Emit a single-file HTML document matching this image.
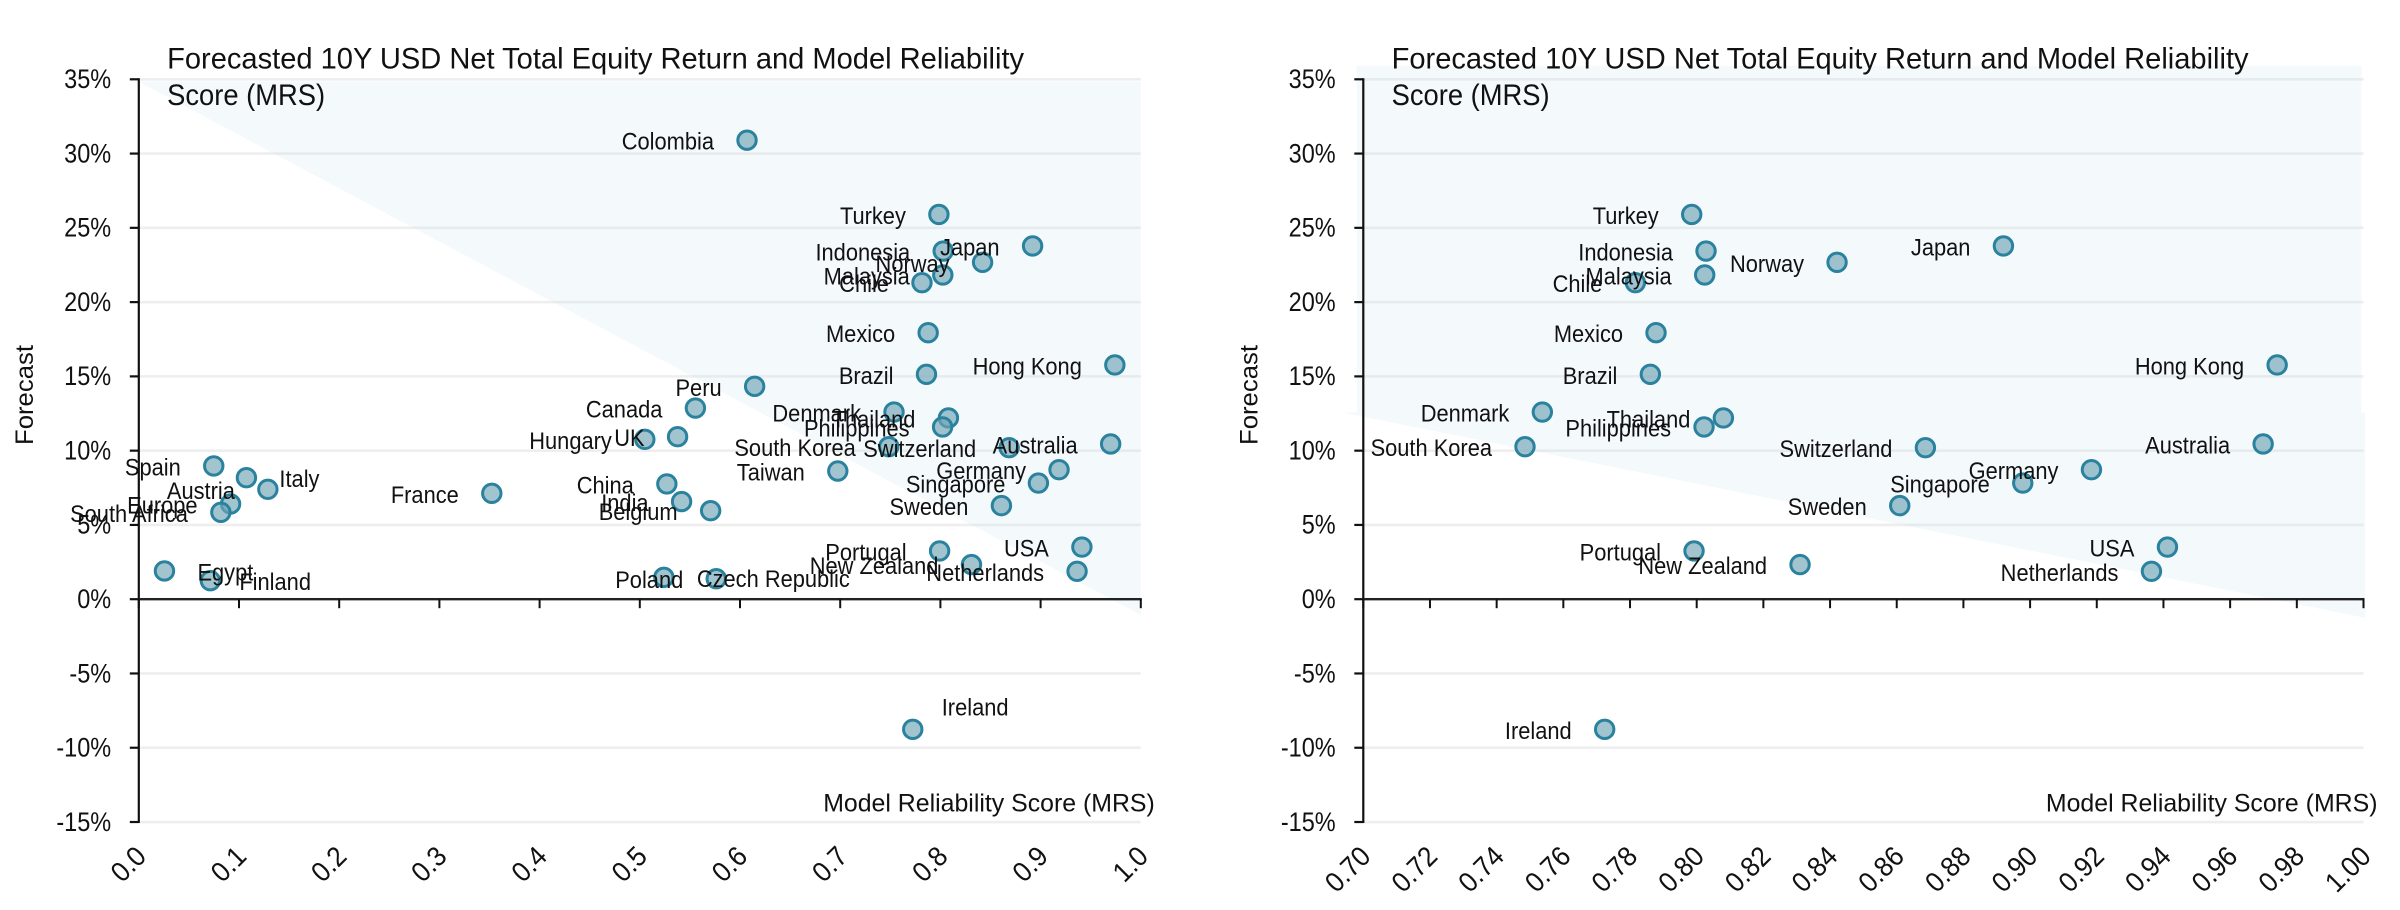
<!DOCTYPE html>
<html lang="en">
<head>
<meta charset="utf-8">
<title>Forecasted 10Y USD Net Total Equity Return and Model Reliability Score</title>
<style>
html,body{margin:0;padding:0;background:#fff;}
body{width:2400px;height:910px;overflow:hidden;}
svg{display:block;}
text{font-family:"Liberation Sans",sans-serif;fill:#111;}
</style>
</head>
<body>
<svg id="figure" xmlns="http://www.w3.org/2000/svg" width="2400" height="910" viewBox="0 0 2400 910"></svg>
<script>
const countries = ["Colombia","Turkey","Indonesia","Japan","Norway","Malaysia","Chile","Mexico","Brazil","Hong Kong","Denmark","Thailand","Philippines","South Korea","Switzerland","Australia","Germany","Singapore","Sweden","Portugal","New Zealand","USA","Netherlands","Ireland","Peru","Canada","Hungary","UK","Taiwan","China","India","Belgium","Poland","Czech Republic","France","Spain","Italy","Austria","Europe","South Africa","Egypt","Finland"];
const mrsScores = [0.607,0.7985,0.8028,0.892,0.8421,0.8024,0.7816,0.7878,0.7861,0.9741,0.7537,0.808,0.8022,0.7485,0.8686,0.9699,0.9184,0.8978,0.8609,0.7992,0.831,0.9412,0.9364,0.7724,0.6146,0.5555,0.505,0.5377,0.6976,0.527,0.5417,0.5707,0.5763,0.524,0.3523,0.0748,0.1074,0.1288,0.0916,0.0819,0.0256,0.0714];
const forecasts = [30.9,25.9,23.44,23.78,22.68,21.83,21.31,17.94,15.14,15.77,12.6,12.2,11.6,10.27,10.2,10.45,8.72,7.82,6.3,3.25,2.33,3.51,1.88,-8.76,14.33,12.87,10.76,10.94,8.63,7.76,6.57,5.96,1.38,1.47,7.13,8.97,8.18,7.4,6.41,5.85,1.9,1.25];
const yTickValues = [35,30,25,20,15,10,5,0,-5,-10,-15];
const leftXTicks = [0.0,0.1,0.2,0.3,0.4,0.5,0.6,0.7,0.8,0.9,1.0];
const rightXTicks = [0.70,0.72,0.74,0.76,0.78,0.80,0.82,0.84,0.86,0.88,0.90,0.92,0.94,0.96,0.98,1.00];
const leftRegionX = [0,1,1];
const leftRegionY = [34.84,34.84,-1.06];
const rightRegionX = [0.698,0.9994,0.9994,1.0005,1.0005,0.6938,0.698];
const rightRegionY = [35.9,35.9,12.56,12.56,-1.25,12.56,12.56];
const leftRightSideLabels = ["Italy","Egypt","Finland","Czech Republic","Ireland"];
const rightRightSideLabels = [];

const NS = "http://www.w3.org/2000/svg";
const fig = document.getElementById("figure");

function linearScale(d0, d1, r0, r1) {
  return function (v) { return r0 + (v - d0) * (r1 - r0) / (d1 - d0); };
}
function make(parent, tag, attrs) {
  const n = document.createElementNS(NS, tag);
  for (const k in attrs) n.setAttribute(k, attrs[k]);
  parent.appendChild(n);
  return n;
}
function fit(t, width, factor) {
  const len = width || t.getComputedTextLength() * factor;
  t.setAttribute("textLength", len);
  t.setAttribute("lengthAdjust", "spacingAndGlyphs");
}
function slug(s) { return s.toLowerCase().replace(/[^a-z0-9]+/g, "-"); }

function drawChart(cfg) {
  const x = linearScale(cfg.xMin, cfg.xMax, cfg.x0, cfg.x1);
  const y = linearScale(0, 35, 599.2, 79.3);
  const g = make(fig, "g", {});
  
  

  yTickValues.forEach(function (v) {
    const l = make(g, "line", {x1: cfg.x0, x2: cfg.x1, y1: y(v), y2: y(v), stroke: "#eeeeee", "stroke-width": 2.6});
    
    
  });

  const pts = cfg.regionX.map(function (v, i) { return x(v) + "," + y(cfg.regionY[i]); }).join(" ");
  const region = make(g, "polygon", {points: pts, fill: "rgba(190,222,240,0.17)"});
  
  

  const yAxis = make(g, "line", {x1: cfg.x0, x2: cfg.x0, y1: y(35) - 1, y2: y(-15) + 1, stroke: "#111", "stroke-width": 2.2});
  
  
  const xAxis = make(g, "line", {x1: cfg.x0, x2: cfg.x1 + 1, y1: y(0), y2: y(0), stroke: "#222", "stroke-width": 2.4});
  
  

  yTickValues.forEach(function (v) {
    const tk = make(g, "line", {x1: cfg.x0 - 9, x2: cfg.x0, y1: y(v), y2: y(v), stroke: "#111", "stroke-width": 2.2});
    
    
    const t = make(g, "text", {x: cfg.x0 - 27.6, y: y(v) + 8.8, "text-anchor": "end", "font-size": 27});
    t.textContent = v + "%";
    
    
    fit(t, 0, 0.87);
  });

  cfg.xTicks.forEach(function (v) {
    const label = v.toFixed(cfg.xDecimals);
    const tk = make(g, "line", {x1: x(v), x2: x(v), y1: y(0), y2: y(0) + 9, stroke: "#111", "stroke-width": 2});
    
    
    const px = x(v) + 9;
    const py = 858;
    const t = make(g, "text", {x: px, y: py, "text-anchor": "end", "font-size": 28, transform: "rotate(-45 " + px + " " + py + ")"});
    t.textContent = label;
    
    
    fit(t, 0, 0.93);
  });

  countries.forEach(function (name, i) {
    if (mrsScores[i] < cfg.xMin || mrsScores[i] > cfg.xMax) return;
    const c = make(g, "circle", {cx: x(mrsScores[i]), cy: y(forecasts[i]), r: 9.2, fill: "rgba(112,165,182,0.66)", stroke: "#2a829e", "stroke-width": 3});
    
    
  });

  countries.forEach(function (name, i) {
    if (mrsScores[i] < cfg.xMin || mrsScores[i] > cfg.xMax) return;
    const onRight = cfg.rightSide.indexOf(name) >= 0;
    const nudged = name === "Finland" || name === "Ireland";
    const dx = onRight ? (nudged ? 29 : 33) : -33;
    const above = onRight && name === "Ireland";
    const dy = above ? -14 : 9.5;
    const t = make(g, "text", {x: x(mrsScores[i]) + dx, y: y(forecasts[i]) + dy, "text-anchor": onRight ? "start" : "end", "font-size": 24});
    t.textContent = name;
    
    
    fit(t, 0, 0.91);
  });

  const t1 = make(g, "text", {x: cfg.x0 + 28.3, y: 68.3, "font-size": 30});
  t1.textContent = "Forecasted 10Y USD Net Total Equity Return and Model Reliability";
  
  
  fit(t1, 857);
  const t2 = make(g, "text", {x: cfg.x0 + 28.3, y: 105, "font-size": 30});
  t2.textContent = "Score (MRS)";
  
  
  fit(t2, 158);

  const xt = make(g, "text", {x: cfg.x1 + 14, y: 811.7, "text-anchor": "end", "font-size": 25});
  xt.textContent = "Model Reliability Score (MRS)";
  
  
  fit(xt, 331.6);

  const yx = cfg.x0 - 105.8;
  const yt = make(g, "text", {x: yx, y: 395, "text-anchor": "middle", "font-size": 25, transform: "rotate(-90 " + yx + " 395)"});
  yt.textContent = "Forecast";
  
  
  fit(yt, 100);
}

drawChart({name: "full-range-chart", xMin: 0, xMax: 1, x0: 138.8, x1: 1140.8, xTicks: leftXTicks, xDecimals: 1, regionX: leftRegionX, regionY: leftRegionY, rightSide: leftRightSideLabels});
drawChart({name: "zoomed-range-chart", xMin: 0.7, xMax: 1, x0: 1363.3, x1: 2363.5, xTicks: rightXTicks, xDecimals: 2, regionX: rightRegionX, regionY: rightRegionY, rightSide: rightRightSideLabels});
</script>
</body>
</html>
